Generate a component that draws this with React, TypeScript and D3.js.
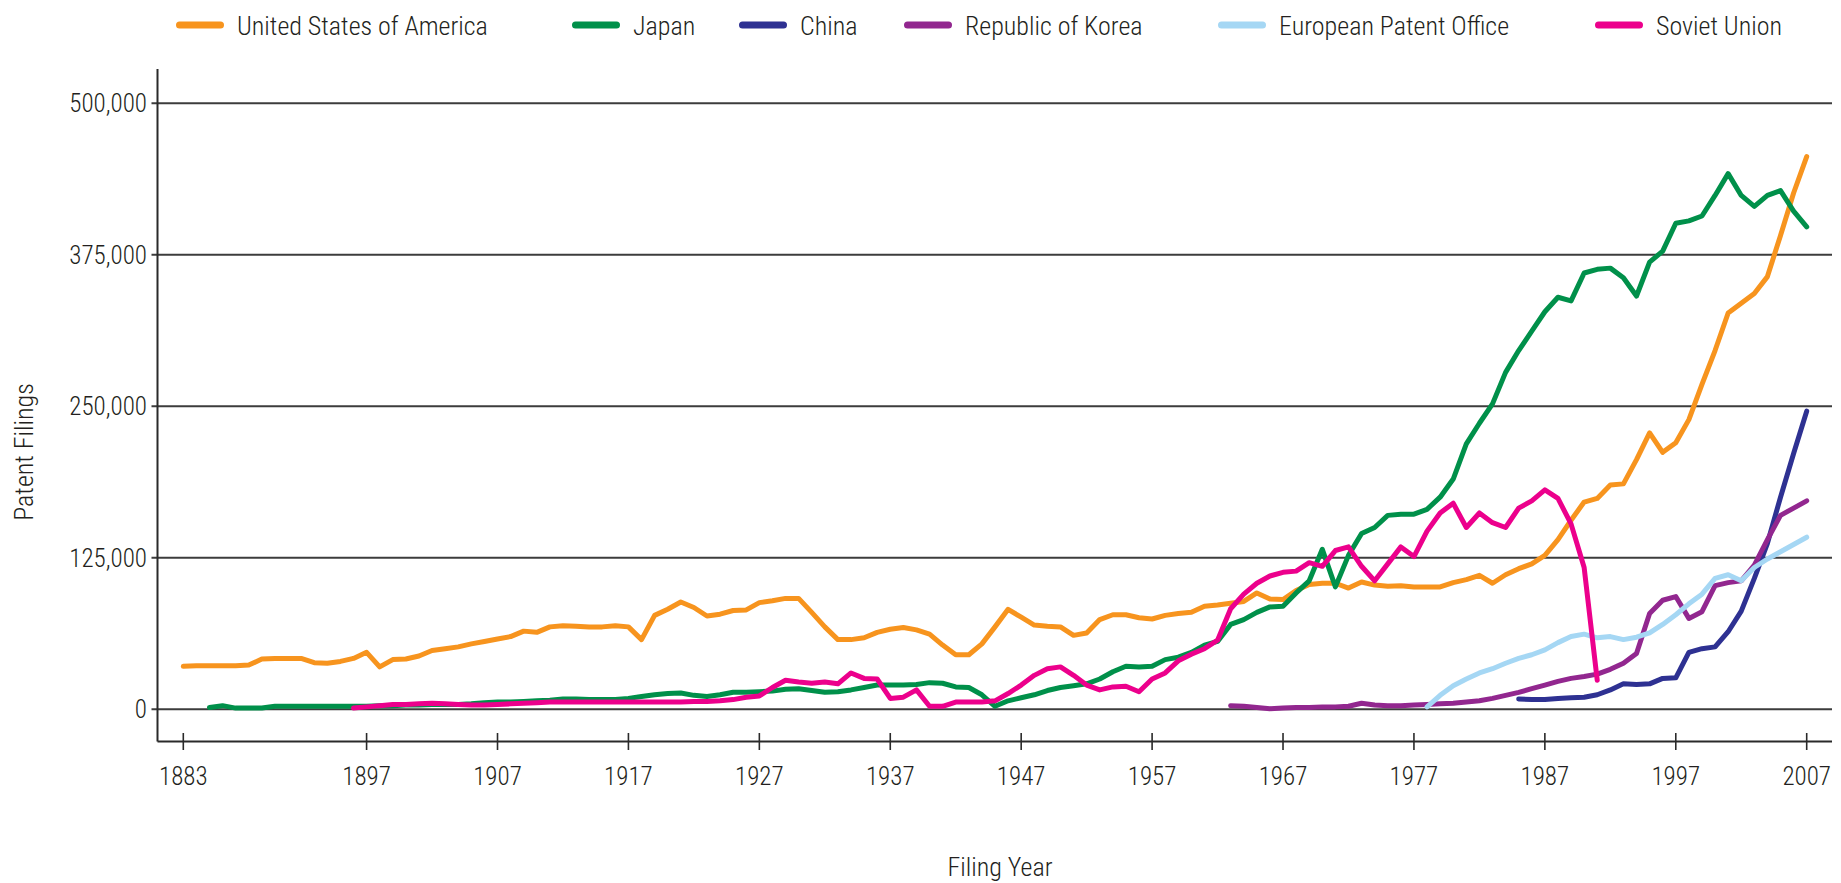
import React from 'react';
import * as d3 from 'd3';

// ---------- DATA (values in thousands of filings) ----------
const YEAR_TICKS = [1883, 1897, 1907, 1917, 1927, 1937, 1947, 1957, 1967, 1977, 1987, 1997, 2007];
const VALUE_TICKS = [0, 125000, 250000, 375000, 500000];

const USA_START = 1883;
const USA_K = [
  35.5, 36, 36, 36, 36, 36.5, 41.5, 42, 42, 42, // 1883-1892
  38.5, 38, 39.5, 42, 47, 35, 41, 41.5, 44, 48.5, // 1893-1902
  50, 51.5, 54, 56, 58, 60, 64.5, 63.5, 68, 69, // 1903-1912
  68.5, 68, 68, 69, 68, 57.5, 77.5, 82.5, 88.5, 84, // 1913-1922
  77, 78.5, 81.5, 82, 88, 89.5, 91.5, 91.5, 80, 68, // 1923-1932
  57.5, 57.5, 59, 63.5, 66, 67.5, 65.5, 62, 53, 45, // 1933-1942
  45, 54, 68, 82.5, 76, 69.5, 68.5, 68, 61, 63, // 1943-1952
  74, 78, 78, 75.5, 74.5, 77.5, 79, 80, 85, 86, // 1953-1962
  87.5, 89, 96, 91, 90.5, 98, 103, 104, 104, 100, // 1963-1972
  105, 102.5, 101.5, 102, 101, 101, 101, 104.5, 107, 110.5, // 1973-1982
  104, 111, 116, 120, 127, 140, 156, 171, 174, 185, // 1983-1992
  186, 206, 228, 212, 220, 239, 268, 296, 327, 335, // 1993-2002
  343, 357, 391, 426, 456, // 2003-2007
];

const JAPAN_START = 1885;
const JAPAN_K = [
  1.5, 3, 1, 1, 1, 2.5, 2.5, 2.5, 2.5, 2.5, // 1885-1894
  2.5, 2.5, 2.5, 3, 3, 3.5, 3.5, 4, 4, 4, // 1895-1904
  4.5, 5.5, 6, 6, 6.5, 7, 7.5, 8.5, 8.5, 8, // 1905-1914
  8, 8, 9, 10.5, 12, 13, 13.5, 11.5, 10.5, 12, // 1915-1924
  14, 14, 14.5, 15, 16.5, 17, 15.5, 14, 14.5, 16, // 1925-1934
  18, 20, 20, 20, 20.5, 22, 21.5, 18.5, 18, 12, // 1935-1944
  2.5, 7, 9.5, 12, 15.5, 18, 19.5, 21, 25, 31, // 1945-1954
  35.5, 35, 35.5, 41, 43, 47, 53, 56, 70, 74, // 1955-1964
  80, 84.5, 85, 96, 106, 132, 101, 127, 145, 150, // 1965-1974
  160, 161, 161, 165, 175, 190, 219, 236, 252, 278, // 1975-1984
  296, 312, 328, 340, 337, 360, 363, 364, 356, 341, // 1985-1994
  369, 378, 401, 403, 407, 424, 442, 424, 415, 424, // 1995-2004
  428, 411, 398, // 2005-2007
];

const CHINA_START = 1985;
const CHINA_K = [
  8.5, 8, 8, 9, 9.5, 10, 12, 16, 21, 20.5, // 1985-1994
  21, 25.5, 26, 47, 50, 51.5, 64, 81, 108, 137, // 1995-2004
  175, 211, 246, // 2005-2007
];

const KOREA_START = 1963;
const KOREA_K = [
  3, 2.5, 1.5, 0.5, 1, 1.5, 1.5, 2, 2, 2.5, // 1963-1972
  5, 3.5, 3, 3, 3.5, 4, 4.5, 5, 6, 7, // 1973-1982
  9, 11.5, 14, 17, 20, 23, 25.5, 27, 29, 33, // 1983-1992
  38, 46, 79, 90, 93, 75, 80.5, 102, 104.5, 106, // 1993-2002
  119, 140, 160, 166, 172, // 2003-2007
];

const EPO_START = 1978;
const EPO_K = [
  2, 11.5, 19.5, 25, 30, 33.5, 38, 42, 45, 49, // 1978-1987
  55, 60, 62, 59, 60, 57.5, 59.5, 63, 70, 78, // 1988-1997
  87, 95, 108, 111, 106, 117, 124, 130, 136, 142, // 1998-2007
];

const SOVIET_START = 1896;
const SOVIET_K = [
  1, 2, 3, 4, 4, 4.5, 5, 4.5, 4, 3.5, // 1896-1905
  3.5, 4, 4.5, 5, 5.5, 6, 6, 6, 6, 6, // 1906-1915
  6, 6, 6, 6, 6, 6, 6.5, 6.5, 7, 8, // 1916-1925
  10, 11, 18, 24, 22.5, 21.5, 22.5, 21, 30, 25.5, // 1926-1935
  25, 9, 10, 16, 2.5, 2.5, 6, 6, 6, 7, // 1936-1945
  13, 20, 28, 33.5, 35, 28, 20, 16, 18.5, 19, // 1946-1955
  14.5, 25, 30, 40, 45.5, 50, 57, 83, 95, 104, // 1956-1965
  110, 113, 114, 121, 118, 131, 134, 118, 106, 120, // 1966-1975
  134, 126, 147, 162, 170, 150, 162, 154, 150, 166, // 1976-1985
  172, 181, 174, 153, 117, 24, // 1986-1991
];

const SERIES_NAMES = [
  'United States of America',
  'Japan',
  'China',
  'Republic of Korea',
  'European Patent Office',
  'Soviet Union',
];
const SERIES_COLORS = ['#F7941E', '#00904A', '#2E3192', '#92278F', '#A5D7F4', '#EC008C'];
const SERIES_STARTS = [USA_START, JAPAN_START, CHINA_START, KOREA_START, EPO_START, SOVIET_START];
const SERIES_VALUES = [USA_K, JAPAN_K, CHINA_K, KOREA_K, EPO_K, SOVIET_K];

// ---------- LAYOUT ----------
const W = 1841;
const H = 883;
const AXIS_X = 157.5;
const AXIS_TOP = 69;
const XAXIS_Y = 741.5;
const RIGHT = 1832;
const LEGEND_X = [176, 572, 739, 904, 1218, 1595];
const LEGEND_Y = 25;
const FONT = "'Liberation Sans Narrow', 'Arial Narrow', 'Roboto Condensed', sans-serif";

type Pt = { year: number; value: number };

export default function App() {
  const x = d3.scaleLinear().domain([1883, 2007]).range([183.3, 1806.7]);
  const y = d3.scaleLinear().domain([0, 500000]).range([709.3, 103.3]);
  const fmt = d3.format(',');

  const line = d3
    .line<Pt>()
    .x((d) => x(d.year))
    .y((d) => y(d.value))
    .curve(d3.curveLinear);

  const series = SERIES_NAMES.map((name, i) => ({
    name,
    color: SERIES_COLORS[i],
    points: SERIES_VALUES[i].map((v, j) => ({ year: SERIES_STARTS[i] + j, value: v * 1000 })),
  }));

  return (
    <div style={{ position: 'absolute', left: 0, top: 0 }}>
      <svg
        width={W}
        height={H}
        style={{ display: 'block', background: '#fff' }}
        fontFamily={FONT}
        fontWeight={300}
      >
        {/* gridlines + y ticks */}
        {VALUE_TICKS.map((v) => (
          <g key={'g' + v}>
            <line x1={AXIS_X - 6} x2={RIGHT} y1={y(v)} y2={y(v)} stroke="#3c3c3c" strokeWidth={2} />
            <text x={147} y={y(v) + 9} textAnchor="end" fontSize={25} fill="#231F20">
              {fmt(v)}
            </text>
          </g>
        ))}

        {/* axes */}
        <line x1={AXIS_X} x2={AXIS_X} y1={AXIS_TOP} y2={XAXIS_Y} stroke="#2a2a2a" strokeWidth={2} />
        <line x1={AXIS_X} x2={RIGHT} y1={XAXIS_Y} y2={XAXIS_Y} stroke="#2a2a2a" strokeWidth={2} />
        {YEAR_TICKS.map((t) => (
          <g key={'t' + t}>
            <line x1={x(t)} x2={x(t)} y1={XAXIS_Y - 8.5} y2={XAXIS_Y + 8.5} stroke="#2a2a2a" strokeWidth={1.6} />
            <text x={x(t)} y={785} textAnchor="middle" fontSize={25} fill="#231F20">
              {t}
            </text>
          </g>
        ))}

        {/* series */}
        {series.map((s) => (
          <path
            key={s.name}
            d={line(s.points) || ''}
            fill="none"
            stroke={s.color}
            strokeWidth={5}
            strokeLinejoin="round"
            strokeLinecap="round"
          />
        ))}

        {/* axis titles */}
        <text x={1000} y={876} textAnchor="middle" fontSize={26} fill="#231F20">
          Filing Year
        </text>
        <text
          transform={`translate(33, 452) rotate(-90)`}
          textAnchor="middle"
          fontSize={26}
          fill="#231F20"
        >
          Patent Filings
        </text>

        {/* legend */}
        {series.map((s, i) => (
          <g key={'l' + s.name} transform={`translate(${LEGEND_X[i]}, ${LEGEND_Y})`}>
            <line x1={3.5} x2={44.5} y1={0} y2={0} stroke={s.color} strokeWidth={7} strokeLinecap="round" />
            <text x={61} y={9.5} fontSize={26} fill="#231F20">
              {s.name}
            </text>
          </g>
        ))}
      </svg>
    </div>
  );
}
